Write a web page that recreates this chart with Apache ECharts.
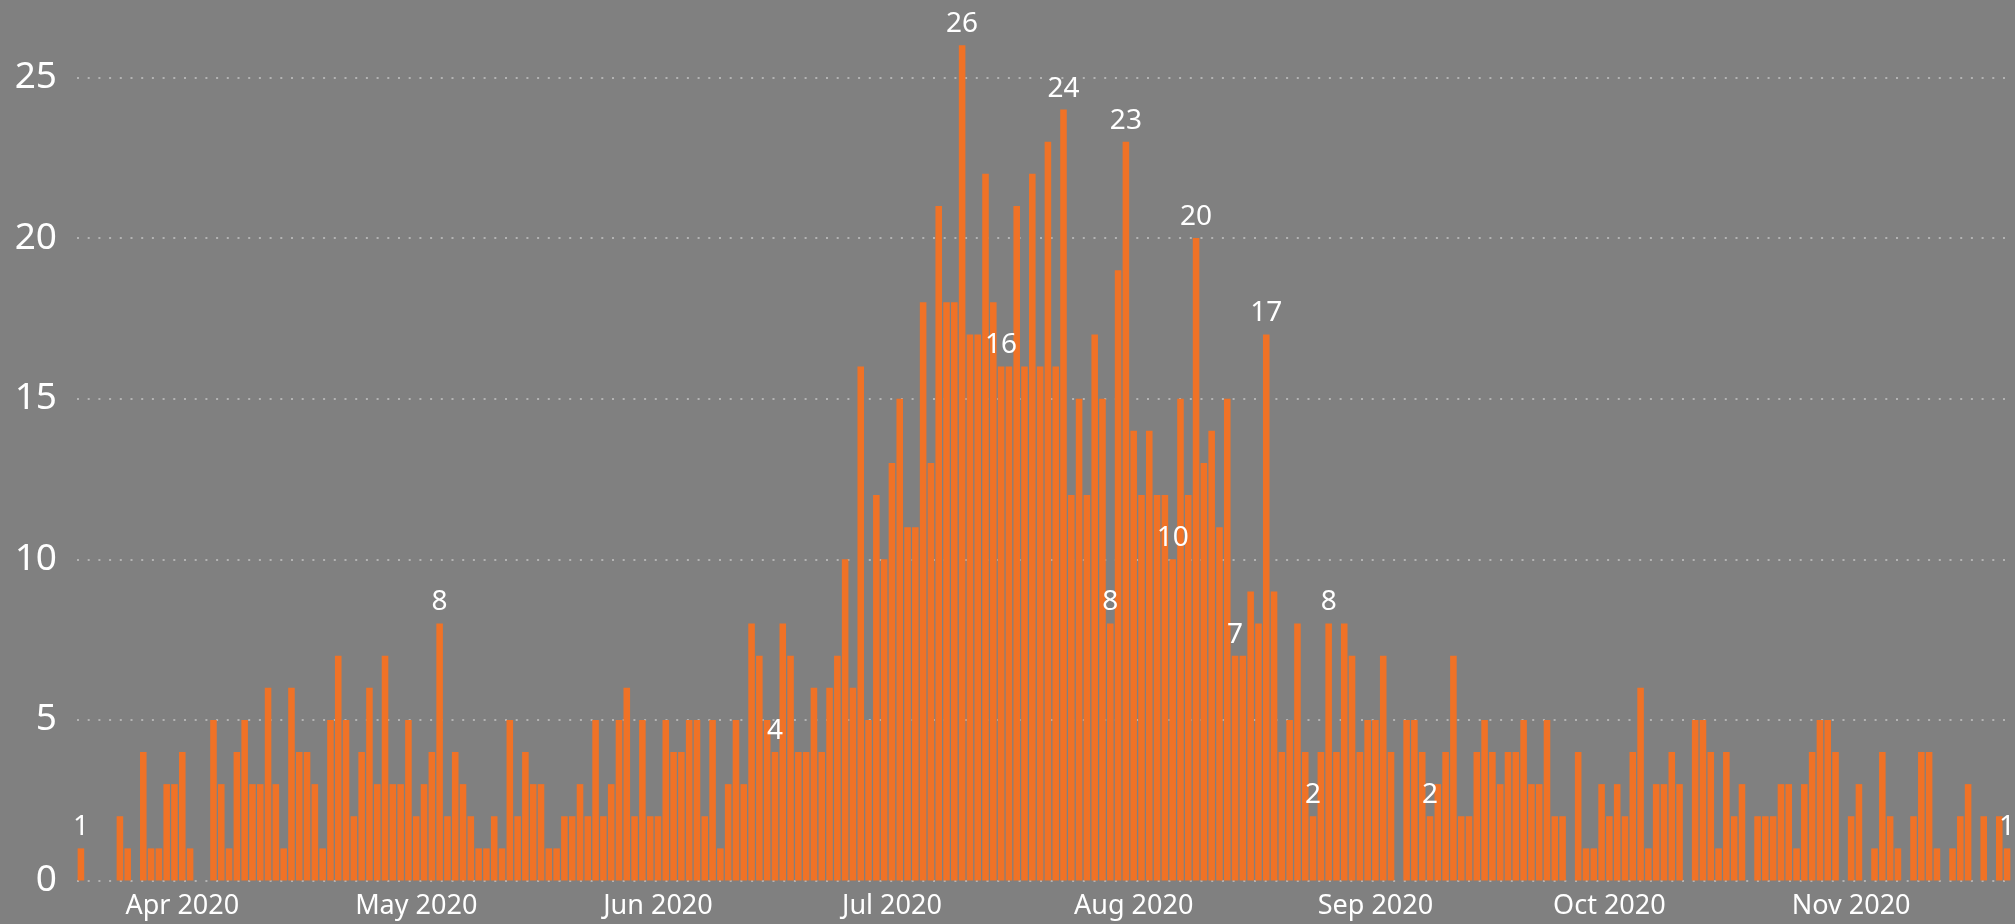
<!DOCTYPE html>
<html>
<head>
<meta charset="utf-8">
<script src="https://cdn.jsdelivr.net/npm/echarts@6/dist/echarts.min.js"></script>
<style>
  html, body { margin: 0; padding: 0; background: #808080; }
  #chart { width: 2015px; height: 924px; }
</style>
</head>
<body>
<div id="chart"></div>
<script>
// First day of the daily series (one bar per day)
const startDate = '2020-03-19';
const dayCount = 248;

// Daily values, 2020-03-19 .. 2020-11-21
const valuesMarApr = [1,0,0,0,0,2,1,0,4,1,1,3,3, 4,1,0,0,5,3,1,4,5,3,3,6,3,1,6,4,4,3,1,5,7,5,2,4,6,3,7,3,3,5];
const valuesMay = [2,3,4,8,2,4,3,2,1,1,2,1,5,2,4,3,3,1,1,2,2,3,2,5,2,3,5,6,2,5,2];
const valuesJun = [2,5,4,4,5,5,2,5,1,3,5,3,8,7,5,4,8,7,4,4,6,4,6,7,10,6,16,5,12,10];
const valuesJul = [13,15,11,11,18,13,21,18,18,26,17,17,22,18,16,16,21,16,22,16,23,16,24,12,15,12,17,15,8,19,23];
const valuesAug = [14,12,14,12,12,10,15,12,20,13,14,11,15,7,7,9,8,17,9,4,5,8,4,2,4,8,4,8,7,4,5];
const valuesSep = [5,7,4,0,5,5,4,2,3,4,7,2,2,4,5,4,3,4,4,5,3,3,5,2,2,0,4,1,1,3];
const valuesOct = [2,3,2,4,6,1,3,3,4,3,0,5,5,4,1,4,2,3,0,2,2,2,3,3,1,3,4,5,5,4,0];
const valuesNov = [2,3,0,1,4,2,1,0,2,4,4,1,0,1,2,3,0,2,0,2,1];

// Days that carry a data label in the reference
const labeledDates = ['2020-03-19','2020-05-04','2020-06-16','2020-07-10','2020-07-15','2020-07-23',
  '2020-07-29','2020-07-31','2020-08-06','2020-08-09','2020-08-14','2020-08-18','2020-08-24',
  '2020-08-26','2020-09-08','2020-11-21'];

// Axis tick labels (placed on the first day of each month)
const tickDates = ['2020-04-01','2020-05-01','2020-06-01','2020-07-01','2020-08-01','2020-09-01','2020-10-01','2020-11-01'];
const tickLabels = ['Apr 2020','May 2020','Jun 2020','Jul 2020','Aug 2020','Sep 2020','Oct 2020','Nov 2020'];
const yTicks = [0, 5, 10, 15, 20, 25];
const yMax = 27.41;

const values = [].concat(valuesMarApr, valuesMay, valuesJun, valuesJul, valuesAug, valuesSep, valuesOct, valuesNov);

function pad(n) { return (n < 10 ? '0' : '') + n; }
const categories = [];
(function () {
  const d = new Date(startDate + 'T00:00:00Z');
  for (let i = 0; i < dayCount; i++) {
    const c = new Date(d.getTime() + i * 86400000);
    categories.push(c.getUTCFullYear() + '-' + pad(c.getUTCMonth() + 1) + '-' + pad(c.getUTCDate()));
  }
})();

const FONT = '"Noto Sans", "Open Sans", sans-serif';
const chart = echarts.init(document.getElementById('chart'), null, { renderer: 'canvas' });

chart.setOption({
  backgroundColor: '#808080',
  animation: false,
  grid: { left: 77, right: 4, top: 0, bottom: 43.5, containLabel: false },
  xAxis: {
    type: 'category',
    data: categories,
    boundaryGap: true,
    axisLine: { show: false },
    axisTick: { show: false },
    axisLabel: {
      interval: function (index, value) { return tickDates.indexOf(value) >= 0; },
      formatter: function (value) {
        const k = tickDates.indexOf(value);
        return k >= 0 ? tickLabels[k] : '';
      },
      color: '#ffffff',
      fontFamily: FONT,
      fontSize: 27,
      margin: 12
    },
    splitLine: { show: false }
  },
  yAxis: {
    type: 'value',
    min: 0,
    max: yMax,
    interval: 5,
    axisLine: { show: false },
    axisTick: { show: false },
    axisLabel: {
      color: '#ffffff',
      fontFamily: FONT,
      fontSize: 37,
      margin: 20,
      showMaxLabel: false,
      formatter: function (v) { return yTicks.indexOf(v) >= 0 ? String(v) : ''; }
    },
    splitLine: {
      show: true,
      showMaxLine: false,
      lineStyle: { color: '#c4c4c4', width: 1.5, type: [2, 8.7] }
    }
  },
  series: [{
    type: 'bar',
    data: values,
    barCategoryGap: '16%',
    itemStyle: { color: '#F07226' },
    label: {
      show: true,
      position: 'top',
      distance: 7,
      color: '#ffffff',
      fontFamily: FONT,
      fontSize: 28,
      formatter: function (p) {
        return labeledDates.indexOf(p.name) >= 0 ? String(p.value) : '';
      }
    },
    labelLayout: { hideOverlap: false }
  }]
});
</script>
</body>
</html>
